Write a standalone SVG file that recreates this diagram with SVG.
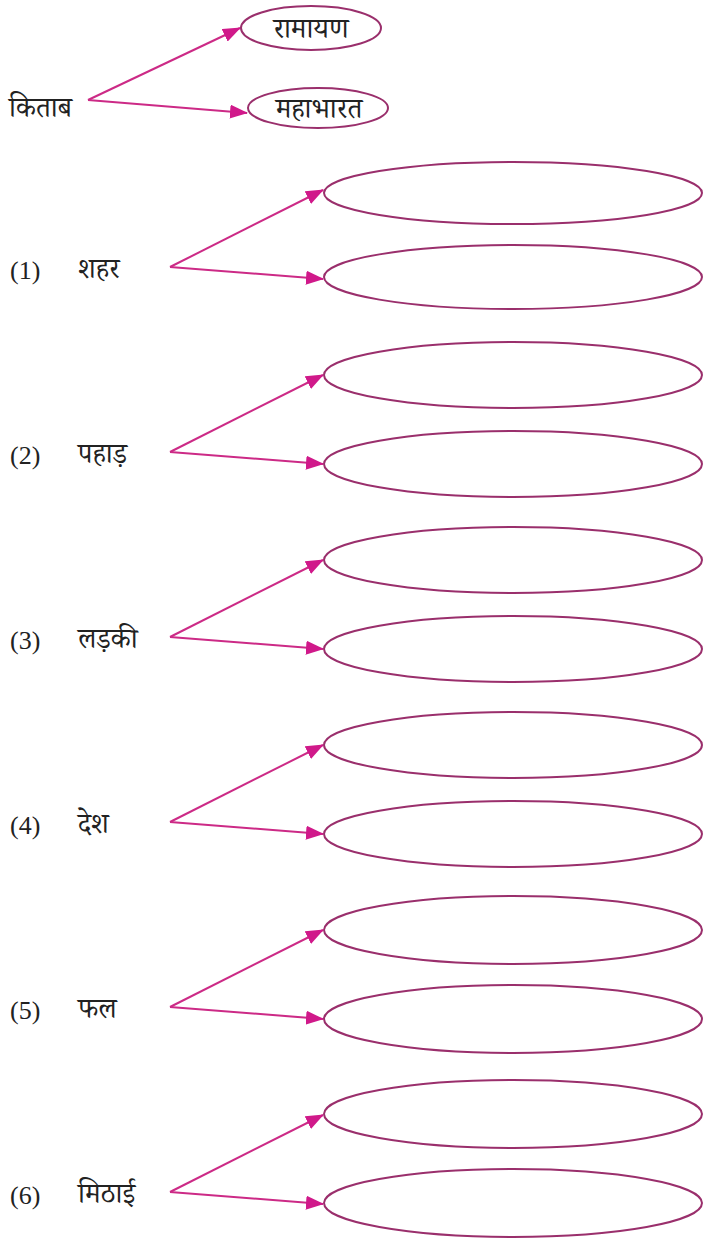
<svg xmlns="http://www.w3.org/2000/svg" width="703" height="1240" viewBox="0 0 703 1240">
<style>
.bg{fill:#ffffff}
.ell{fill:#ffffff;stroke:#9a2f6c;stroke-width:2}
.con{stroke:#cc2a86;stroke-width:2;fill:none;marker-end:url(#ah)}
.num{font-family:"Liberation Serif","Times New Roman",serif;font-size:26px;fill:#222}
.hi{font-family:"Noto Serif Devanagari","Noto Sans Devanagari","Lohit Devanagari","Liberation Serif",serif;font-size:28px;fill:#222}
</style>
<defs>
<marker id="ah" markerUnits="userSpaceOnUse" markerWidth="18" markerHeight="14" refX="17" refY="7" orient="auto">
<path d="M0,0 L18,7 L0,14 Z" fill="#d0198a"/>
</marker>
</defs>
<rect class="bg" x="0" y="0" width="703" height="1240"/>

<g id="connectors">
<line class="con" x1="88" y1="100" x2="240" y2="28"/>
<line class="con" x1="88" y1="100" x2="247" y2="113"/>
<line class="con" x1="170" y1="267" x2="323" y2="190"/>
<line class="con" x1="170" y1="267" x2="323" y2="279"/>
<line class="con" x1="170" y1="452" x2="323" y2="375"/>
<line class="con" x1="170" y1="452" x2="323" y2="464"/>
<line class="con" x1="170" y1="637" x2="323" y2="560"/>
<line class="con" x1="170" y1="637" x2="323" y2="649"/>
<line class="con" x1="170" y1="822" x2="323" y2="745"/>
<line class="con" x1="170" y1="822" x2="323" y2="834"/>
<line class="con" x1="170" y1="1007" x2="323" y2="930"/>
<line class="con" x1="170" y1="1007" x2="323" y2="1019"/>
<line class="con" x1="170" y1="1192" x2="323" y2="1115"/>
<line class="con" x1="170" y1="1192" x2="323" y2="1204"/>
</g>

<g id="kitab"><text class="hi" x="9" y="117">किताब</text></g>
<g id="ramayan"><ellipse class="ell" cx="311" cy="28" rx="70" ry="22"/><text class="hi" x="311" y="38" text-anchor="middle">रामायण</text></g>
<g id="mahabharat"><ellipse class="ell" cx="318" cy="108" rx="70" ry="20"/><text class="hi" x="319" y="118" text-anchor="middle">महाभारत</text></g>

<g id="row1"><text class="num" x="10" y="279">(1)</text><text class="hi" x="78" y="278">शहर</text>
<ellipse class="ell" cx="513" cy="193" rx="189" ry="31"/><ellipse class="ell" cx="513" cy="277" rx="189" ry="32"/></g>
<g id="row2"><text class="num" x="10" y="464">(2)</text><text class="hi" x="78" y="463">पहाड़</text>
<ellipse class="ell" cx="513" cy="375" rx="189" ry="33"/><ellipse class="ell" cx="513" cy="464" rx="189" ry="33"/></g>
<g id="row3"><text class="num" x="10" y="649">(3)</text><text class="hi" x="78" y="648">लड़की</text>
<ellipse class="ell" cx="513" cy="560" rx="189" ry="33"/><ellipse class="ell" cx="513" cy="649" rx="189" ry="33"/></g>
<g id="row4"><text class="num" x="10" y="834">(4)</text><text class="hi" x="78" y="833">देश</text>
<ellipse class="ell" cx="513" cy="745" rx="189" ry="33"/><ellipse class="ell" cx="513" cy="834" rx="189" ry="33"/></g>
<g id="row5"><text class="num" x="10" y="1019">(5)</text><text class="hi" x="78" y="1018">फल</text>
<ellipse class="ell" cx="513" cy="930" rx="189" ry="34"/><ellipse class="ell" cx="513" cy="1019" rx="189" ry="34"/></g>
<g id="row6"><text class="num" x="10" y="1204">(6)</text><text class="hi" x="78" y="1203">मिठाई</text>
<ellipse class="ell" cx="513" cy="1114" rx="189" ry="34"/><ellipse class="ell" cx="513" cy="1203" rx="189" ry="34"/></g>
</svg>
